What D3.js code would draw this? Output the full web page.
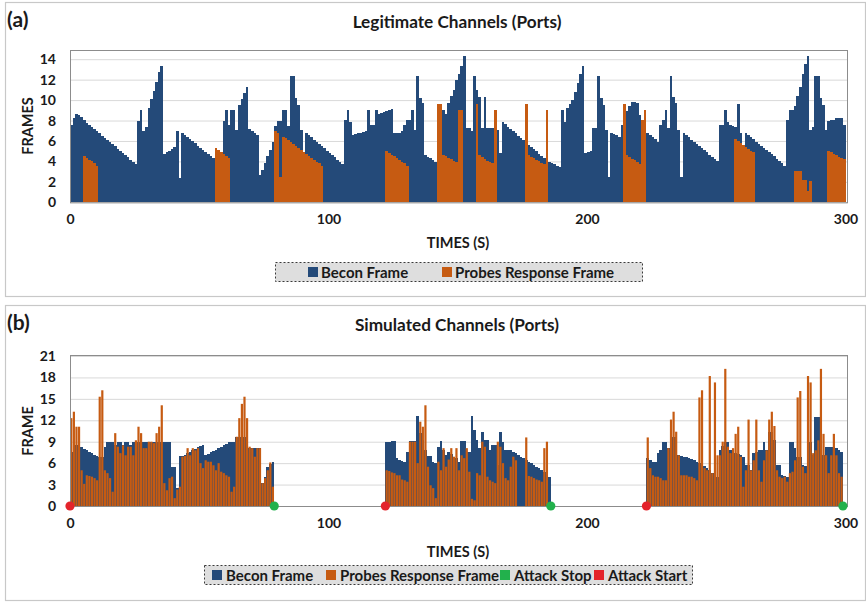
<!DOCTYPE html>
<html>
<head>
<meta charset="utf-8">
<script src="https://cdn.jsdelivr.net/npm/d3@7"></script>
<style>
  body { margin: 0; background: #ffffff; }
  svg text { font-family: Lato, "Open Sans", sans-serif; font-weight: 700; fill: #1a1a1a; }
</style>
</head>
<body>
<svg id="chart" width="866" height="603"></svg>
<script>
// ---------- Legitimate channels: one value per second, t = 0..299 ----------
const legitBeacon = [
  7.6, 8.2, 8.6, 8.5, 8.3, 8.1, 7.8, 7.6, 7.4, 7.2,
  7.0, 6.8, 6.5, 6.3, 6.1, 5.9, 5.7, 5.5, 5.2, 5.0,
  4.8, 4.6, 4.4, 4.1, 3.9, 3.7, 8.0, 9.0, 7.0, 7.4,
  9.2, 10.1, 10.9, 11.8, 12.7, 13.3, 4.7, 4.9, 5.0, 5.2,
  5.4, 7.0, 2.4, 6.8, 6.6, 6.4, 6.2, 6.0, 5.8, 5.5,
  5.3, 5.1, 4.9, 4.7, 4.5, 4.3, 4.1, 3.9, 3.7, 8.0,
  9.0, 7.6, 9.0, 9.0, 7.1, 9.5, 10.1, 10.7, 11.3, 7.2,
  7.0, 6.8, 6.6, 2.7, 3.2, 3.8, 4.5, 5.1, 5.9, 7.5,
  8.0, 8.0, 9.0, 9.0, 7.5, 12.4, 12.4, 10.2, 9.5, 7.1,
  4.9, 6.8, 6.6, 6.4, 6.1, 5.9, 5.7, 5.5, 5.3, 5.0,
  4.8, 4.6, 4.4, 4.1, 3.9, 3.7, 8.1, 9.0, 7.9, 6.6,
  6.7, 6.8, 6.8, 6.9, 7.0, 9.0, 7.6, 7.6, 9.0, 8.6,
  8.7, 8.8, 8.9, 9.0, 9.1, 6.8, 6.8, 6.8, 7.0, 7.6,
  8.1, 8.1, 9.0, 7.1, 12.4, 10.2, 9.7, 4.6, 4.4, 4.3,
  4.1, 3.9, 8.1, 8.1, 9.0, 8.6, 9.7, 10.4, 11.0, 12.0,
  12.6, 13.3, 14.3, 7.3, 7.3, 7.0, 12.4, 11.0, 10.3, 7.3,
  10.3, 7.3, 7.3, 7.3, 7.2, 7.1, 4.8, 7.9, 7.7, 7.4,
  7.2, 7.0, 6.8, 6.5, 6.3, 6.1, 5.9, 5.6, 5.4, 5.2,
  5.0, 4.7, 4.5, 4.3, 4.1, 3.9, 3.8, 3.7, 3.6, 3.5,
  9.0, 7.9, 9.2, 9.6, 10.0, 10.8, 11.7, 12.6, 13.3, 4.8,
  4.9, 5.0, 7.3, 7.3, 12.4, 10.2, 9.5, 7.1, 2.5, 6.8,
  6.7, 6.6, 6.4, 7.6, 8.4, 8.9, 9.4, 9.8, 9.8, 9.7,
  8.5, 8.0, 7.0, 6.8, 6.6, 6.4, 6.2, 5.9, 7.6, 8.1,
  9.0, 7.3, 12.4, 10.3, 9.7, 7.1, 2.5, 6.8, 6.6, 6.4,
  6.1, 5.9, 5.7, 5.5, 5.3, 5.1, 4.9, 4.6, 4.4, 4.2,
  4.0, 7.6, 7.6, 9.0, 7.9, 7.6, 7.5, 7.4, 9.6, 6.8,
  2.5, 6.8, 6.6, 6.4, 6.2, 5.9, 5.7, 5.5, 5.3, 5.1,
  4.9, 4.7, 4.5, 4.2, 4.0, 3.8, 3.6, 8.1, 9.0, 9.0,
  9.4, 10.4, 11.3, 12.6, 13.5, 14.3, 7.1, 7.4, 12.4, 12.4,
  10.2, 9.5, 7.1, 8.0, 8.1, 8.1, 8.2, 8.2, 8.2, 7.6
];
const legitProbe = [
  0, 0, 0, 0, 0, 4.5, 4.3, 4.1, 4.0, 3.8,
  3.6, 0, 0, 0, 0, 0, 0, 0, 0, 0,
  0, 0, 0, 0, 0, 0, 0, 0, 0, 0,
  0, 0, 0, 0, 0, 0, 0, 0, 0, 0,
  0, 0, 0, 0, 0, 0, 0, 0, 0, 0,
  0, 0, 0, 0, 0, 0, 5.3, 5.1, 4.9, 4.7,
  4.5, 4.3, 0, 0, 0, 0, 0, 0, 0, 0,
  0, 0, 0, 0, 0, 0, 0, 0, 0, 7.0,
  6.8, 2.5, 6.4, 6.3, 6.1, 5.9, 5.7, 5.5, 5.3, 5.1,
  4.9, 4.7, 4.5, 4.3, 4.1, 3.9, 3.8, 3.6, 0, 0,
  0, 0, 0, 0, 0, 0, 0, 0, 0, 0,
  0, 0, 0, 0, 0, 0, 0, 0, 0, 0,
  0, 0, 5.0, 4.8, 4.6, 4.5, 4.3, 4.1, 3.9, 3.8,
  3.6, 0, 0, 0, 0, 0, 0, 0, 0, 0,
  0, 0, 9.6, 9.6, 4.6, 4.5, 4.3, 4.2, 4.0, 3.9,
  9.0, 9.0, 0, 0, 0, 0, 0, 9.6, 4.6, 4.4,
  4.2, 4.0, 3.9, 3.8, 9.0, 0, 0, 0, 0, 0,
  0, 0, 0, 0, 0, 0, 9.6, 4.6, 4.4, 4.3,
  4.1, 4.0, 3.8, 3.7, 9.0, 0, 0, 0, 0, 0,
  0, 0, 0, 0, 0, 0, 0, 0, 0, 0,
  0, 0, 0, 0, 0, 0, 0, 0, 0, 0,
  0, 0, 0, 0, 9.6, 4.6, 4.4, 4.2, 4.1, 3.9,
  3.7, 8.1, 9.0, 0, 0, 0, 0, 0, 0, 0,
  0, 0, 0, 0, 0, 0, 0, 0, 0, 0,
  0, 0, 0, 0, 0, 0, 0, 0, 0, 0,
  0, 0, 0, 0, 0, 0, 0, 6.2, 6.0, 5.8,
  5.6, 5.4, 5.2, 5.0, 4.9, 0, 0, 0, 0, 0,
  0, 0, 0, 0, 0, 0, 0, 0, 0, 0,
  3.1, 3.1, 3.1, 2.2, 2.2, 1.1, 2.1, 0, 0, 0,
  0, 0, 0, 5.0, 4.9, 4.7, 4.6, 4.4, 4.3, 4.2
];

// ---------- Simulated channels: three attack windows ----------
const attackStart = [0, 122, 223];
const attackStop = [79, 186, 299];

const simBeacon1 = [
  7.6, 8.5, 8.5, 8.4, 8.2, 8.0, 7.8, 7.6, 7.4, 7.2,
  7.0, 6.9, 6.8, 8.3, 9.0, 9.0, 9.0, 8.5, 9.0, 9.0,
  8.5, 9.0, 9.0, 8.5, 9.0, 9.0, 9.0, 9.0, 9.0, 9.0,
  9.0, 9.0, 9.0, 9.0, 9.0, 8.9, 8.9, 8.9, 8.9, 5.4,
  5.4, 2.5, 7.0, 7.0, 7.2, 7.4, 7.6, 7.8, 8.0, 8.2,
  8.4, 8.6, 7.1, 7.3, 7.5, 7.7, 7.9, 8.1, 8.3, 8.5,
  8.7, 8.9, 9.0, 9.0, 9.7, 9.7, 9.7, 9.7, 8.1, 8.1,
  8.1, 8.1, 8.1, 8.1, 3.2, 4.1, 5.5, 5.9, 6.1
];
const simProbe1 = [
  12.3, 13.2, 11.1, 11.1, 5.0, 3.1, 4.3, 4.2, 4.1, 3.9,
  3.6, 15.3, 16.2, 5.0, 4.6, 3.9, 2.0, 10.2, 8.3, 7.4,
  8.5, 7.1, 8.3, 8.3, 7.1, 9.2, 11.1, 10.2, 8.1, 8.1,
  9.0, 9.0, 8.8, 10.2, 11.1, 14.1, 3.2, 2.2, 3.9, 4.1,
  1.1, 2.3, 2.7, 6.9, 7.0, 8.1, 7.1, 8.1, 7.8, 8.1,
  6.0, 5.3, 6.4, 6.2, 6.2, 5.7, 5.0, 6.0, 4.8, 4.6,
  4.3, 4.1, 2.0, 2.7, 9.7, 12.3, 14.3, 15.3, 12.3, 8.3,
  8.1, 6.9, 8.1, 8.1, 3.2, 3.9, 5.0, 6.1, 2.7
];
const simBeacon2 = [
  9.0, 9.0, 9.1, 9.1, 6.7, 6.5, 6.3, 6.1, 7.6, 9.1,
  9.1, 9.1, 12.6, 10.2, 9.2, 7.8, 7.0, 7.0, 6.2, 6.0,
  8.3, 9.1, 7.8, 7.1, 7.5, 7.3, 6.9, 6.7, 6.2, 9.1,
  9.1, 7.6, 7.6, 12.6, 10.6, 9.2, 8.1, 10.4, 9.2, 9.2,
  7.8, 8.5, 8.5, 5.7, 10.4, 9.0, 7.8, 7.8, 7.8, 7.6,
  7.4, 7.1, 6.9, 6.7, 6.4, 6.2, 6.0, 5.7, 5.5, 5.3,
  5.0, 4.8, 4.6, 4.1
];
const simProbe2 = [
  5.0, 4.9, 4.7, 4.6, 4.3, 4.3, 3.7, 3.6, 3.4, 9.0,
  9.0, 9.0, 6.0, 11.8, 11.1, 14.1, 5.5, 2.9, 2.5, 1.1,
  6.2, 5.0, 8.1, 5.5, 6.5, 8.1, 6.9, 8.1, 5.0, 7.1,
  6.7, 8.1, 4.8, 1.0, 0.8, 4.6, 4.3, 9.0, 8.3, 4.1,
  3.6, 3.4, 3.2, 9.0, 8.3, 6.0, 3.9, 3.6, 5.5, 6.9,
  6.4, 0, 0, 0, 9.6, 4.2, 4.1, 3.9, 3.7, 3.6,
  3.4, 8.1, 9.0, 0
];
const simBeacon3 = [
  6.7, 6.5, 6.2, 6.2, 7.4, 7.8, 9.0, 9.0, 8.1, 9.7,
  9.7, 9.7, 7.1, 7.0, 6.9, 6.8, 6.7, 6.6, 6.4, 6.2,
  6.0, 5.8, 5.6, 5.3, 5.0, 4.6, 3.2, 4.1, 7.8, 8.4,
  9.0, 9.0, 7.8, 7.6, 7.4, 7.3, 7.1, 6.9, 5.7, 5.7,
  5.0, 7.4, 7.6, 7.8, 7.8, 9.0, 7.8, 10.4, 10.4, 9.2,
  5.7, 5.7, 4.3, 4.2, 4.1, 9.0, 9.0, 8.1, 6.9, 6.9,
  5.7, 5.6, 5.5, 9.0, 7.1, 12.5, 12.5, 9.7, 7.1, 8.2,
  8.2, 8.2, 8.2, 8.1, 7.9, 7.6
];
const simProbe3 = [
  9.6, 5.3, 4.3, 4.1, 4.1, 3.9, 3.6, 3.6, 8.1, 12.1,
  13.2, 10.4, 7.1, 4.3, 4.3, 4.3, 4.1, 4.1, 3.9, 3.6,
  15.2, 16.2, 5.3, 5.0, 18.2, 4.6, 17.3, 7.1, 7.1, 9.0,
  19.2, 8.3, 7.4, 8.1, 10.1, 11.1, 6.9, 2.7, 5.0, 12.1,
  5.0, 6.4, 12.1, 5.0, 3.4, 6.4, 7.8, 12.1, 13.2, 11.2,
  5.0, 4.1, 3.9, 4.1, 3.4, 4.6, 4.8, 6.4, 15.2, 16.1,
  5.5, 4.6, 18.2, 17.3, 7.4, 7.8, 9.2, 19.2, 10.1, 7.1,
  4.6, 7.1, 10.1, 7.1, 4.6, 4.1
];

// ---------- axis / legend text ----------
const timeTicks = [0, 100, 200, 300];
const legitTicks = [0, 2, 4, 6, 8, 10, 12, 14];
const simTicks = [0, 3, 6, 9, 12, 15, 18, 21];

const BLUE = "#244a79";
const ORANGE = "#c65b12";
const GREEN = "#22b14c";
const RED = "#e4242b";

const svg = d3.select("#chart");
const x = d3.scaleLinear().domain([0, 300]).range([70, 845.5]);
const PLOT_L = 70, PLOT_R = 847;

// turn a run of per-second values into bar records
function toBars(values, start) {
  return values.map((v, i) => ({ t: start + i, v }));
}

function drawPanel(cfg) {
  const g = svg.append("g");
  const y = d3.scaleLinear().domain([0, cfg.yMax]).range([cfg.y0, cfg.yTop]);

  // outer frame of the panel
  g.append("rect")
    .attr("x", 5.5).attr("y", cfg.boxTop + 0.5)
    .attr("width", 860).attr("height", cfg.boxH)
    .attr("fill", "none").attr("stroke", "#c8c8c8").attr("stroke-width", 1.2);

  // panel tag and title
  g.append("text").attr("x", 7).attr("y", cfg.boxTop + 25)
    .style("font-size", "21px").text(cfg.tag);
  g.append("text").attr("x", 457).attr("y", cfg.boxTop + 26)
    .attr("text-anchor", "middle").style("font-size", "17.2px").text(cfg.title);

  // horizontal gridlines
  g.append("g")
    .attr("transform", `translate(${PLOT_L},0)`)
    .call(d3.axisLeft(y).tickValues(cfg.ticks).tickSize(-(PLOT_R - PLOT_L)).tickFormat(""))
    .call(a => a.select(".domain").remove())
    .selectAll("line").attr("stroke", "#d9d9d9");

  // beacon bars (behind)
  g.append("g").selectAll("rect")
    .data(cfg.beacon.filter(d => d.v > 0))
    .join("rect")
    .attr("x", d => x(d.t))
    .attr("width", d => x(d.t + 1) - x(d.t))
    .attr("y", d => y(d.v))
    .attr("height", d => y(0) - y(d.v))
    .attr("fill", BLUE)
    .attr("shape-rendering", "crispEdges");

  // probe response bars (front)
  const pw = cfg.probeWidth;
  g.append("g").selectAll("rect")
    .data(cfg.probe.filter(d => d.v > 0))
    .join("rect")
    .attr("x", d => x(d.t) + (x(d.t + 1) - x(d.t)) * (1 - pw) / 2)
    .attr("width", d => (x(d.t + 1) - x(d.t)) * pw)
    .attr("y", d => y(d.v))
    .attr("height", d => y(0) - y(d.v))
    .attr("fill", ORANGE)
    .attr("shape-rendering", pw >= 1 ? "crispEdges" : "auto");

  // plot area border
  g.append("rect")
    .attr("x", PLOT_L + 0.5).attr("y", cfg.frameTop + 0.5)
    .attr("width", PLOT_R - PLOT_L).attr("height", y(0) - cfg.frameTop)
    .attr("fill", "none").attr("stroke", "#8c8c8c");

  // y axis labels
  g.append("g")
    .attr("transform", `translate(${PLOT_L - 4},0)`)
    .call(d3.axisLeft(y).tickValues(cfg.ticks).tickSize(0).tickPadding(10))
    .call(a => a.select(".domain").remove())
    .selectAll("text").style("font-size", "14px").style("font-family", "Lato, sans-serif");

  // x axis labels
  g.append("g")
    .attr("transform", `translate(0,${y(0)})`)
    .call(d3.axisBottom(x).tickValues(timeTicks).tickSize(0).tickPadding(12))
    .call(a => a.select(".domain").remove())
    .selectAll("text").style("font-size", "14px").style("font-family", "Lato, sans-serif");

  // axis titles
  g.append("text")
    .attr("transform", `translate(33,${cfg.yTitleY}) rotate(-90)`)
    .attr("text-anchor", "middle").style("font-size", "14.5px").text(cfg.yTitle);
  g.append("text").attr("x", 458).attr("y", cfg.xTitleY)
    .attr("text-anchor", "middle").style("font-size", "14.5px").text("TIMES (S)");

  // legend
  const L = cfg.legend;
  const lg = g.append("g");
  lg.append("rect")
    .attr("x", L.x + 0.5).attr("y", L.y + 0.5).attr("width", L.w).attr("height", 19)
    .attr("fill", "#dedede").attr("stroke", "#3a3a3a").attr("stroke-dasharray", "2,2");
  L.items.forEach(it => {
    lg.append("rect").attr("x", it.sx).attr("y", L.y + 5).attr("width", 10).attr("height", 10)
      .attr("fill", it.color);
    lg.append("text").attr("x", it.tx).attr("y", L.y + 15.5)
      .style("font-size", "15px").text(it.label);
  });

  return y;
}

// (a) legitimate channels
drawPanel({
  tag: "(a)", title: "Legitimate Channels (Ports)",
  boxTop: 2, boxH: 294,
  yMax: 14.9, y0: 202.3, yTop: 50, frameTop: 50,
  ticks: legitTicks, yTitle: "FRAMES", yTitleY: 126, xTitleY: 248,
  beacon: toBars(legitBeacon, 0),
  probe: toBars(legitProbe, 0),
  probeWidth: 1,
  legend: { x: 275, y: 262, w: 367, items: [
    { color: BLUE, sx: 308, tx: 321, label: "Becon Frame" },
    { color: ORANGE, sx: 442, tx: 455, label: "Probes Response Frame" }
  ] }
});

// (b) simulated channels
const simBeacon = [simBeacon1, simBeacon2, simBeacon3].flatMap((arr, k) => toBars(arr, attackStart[k]));
const simProbe = [simProbe1, simProbe2, simProbe3].flatMap((arr, k) => toBars(arr, attackStart[k]));

const yB = drawPanel({
  tag: "(b)", title: "Simulated Channels (Ports)",
  boxTop: 305, boxH: 295,
  yMax: 21, y0: 506, yTop: 356, frameTop: 355,
  ticks: simTicks, yTitle: "FRAME", yTitleY: 431, xTitleY: 557,
  beacon: simBeacon,
  probe: simProbe,
  probeWidth: 0.85,
  legend: { x: 204, y: 565, w: 488, items: [
    { color: BLUE, sx: 212, tx: 226, label: "Becon Frame" },
    { color: ORANGE, sx: 326, tx: 340, label: "Probes Response Frame" },
    { color: GREEN, sx: 500, tx: 514, label: "Attack Stop" },
    { color: RED, sx: 594, tx: 608, label: "Attack Start" }
  ] }
});

// attack start / stop markers on the time axis
svg.append("g").selectAll("circle")
  .data(attackStop).join("circle")
  .attr("cx", d => x(d)).attr("cy", yB(0)).attr("r", 4.6).attr("fill", GREEN);
svg.append("g").selectAll("circle")
  .data(attackStart).join("circle")
  .attr("cx", d => x(d)).attr("cy", yB(0)).attr("r", 4.6).attr("fill", RED);
</script>
</body>
</html>
